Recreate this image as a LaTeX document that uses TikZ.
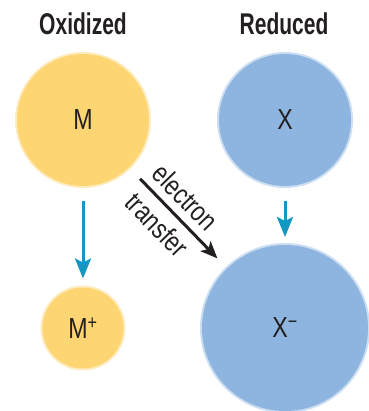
\documentclass[tikz,border=0pt]{standalone}
\usepackage{fontspec}
\setmainfont{Liberation Sans}[FakeStretch=0.8]
\newfontfamily\titlefont{Liberation Sans}[FakeStretch=0.7]
\usetikzlibrary{arrows.meta}

\definecolor{oxyellow}{HTML}{FDD573}
\definecolor{redblue}{HTML}{8DB5E0}
\definecolor{arrowblue}{HTML}{1597C2}
\definecolor{inkdark}{HTML}{231F20}

\begin{document}
\begin{tikzpicture}[
    x=1pt, y=-1pt,
    title/.style={
        font=\titlefont\fontsize{30}{32}\selectfont\bfseries,
        text=inkdark
    },
    ball/.style={
        circle,
        inner sep=0pt,
        line width=4pt,
        draw opacity=0.45,
        font=\fontsize{29}{31}\selectfont,
        text=inkdark
    },
    change/.style={
        line width=3pt,
        draw=arrowblue,
        -{Stealth[length=20pt, width=16pt, inset=4pt]}
    },
    arrowtext/.style={
        font=\fontsize{28}{30}\selectfont,
        text=inkdark,
        sloped,
        inner sep=0pt
    }
]
\useasboundingbox (0, 0) rectangle (368, 411);

% Column titles
\node[title] (oxtitle) at (83, 24) {Oxidized};
\node[title] (redtitle) at (284, 24) {Reduced};

% Before transfer
\node[ball, fill=oxyellow, draw=oxyellow, minimum size=132pt] (m) at (83, 120) {M};
\node[ball, fill=redblue, draw=redblue, minimum size=132pt] (x) at (285, 120) {X};

% After transfer
\node[ball, fill=oxyellow, draw=oxyellow, minimum size=81pt] (mplus) at (83, 328) {M\textsuperscript{+}};
\node[ball, fill=redblue, draw=redblue, minimum size=166pt] (xminus) at (285, 328) {X\textsuperscript{\char"2212}};

% Changes of state
\draw[change, shorten <=13pt, shorten >=7pt] (m) -- (mplus);
\draw[change, shorten <=13pt, shorten >=6pt] (x) -- (xminus);

% Electron transfer
\draw[line width=3pt, draw=inkdark, shorten <=14pt, shorten >=12pt,
      -{Stealth[length=17pt, width=14pt, inset=4pt]}] (m) -- (xminus)
    node[arrowtext, pos=0.43, above=8pt] {electron}
    node[arrowtext, pos=0.43, below=8pt] {transfer};

\end{tikzpicture}
\end{document}
